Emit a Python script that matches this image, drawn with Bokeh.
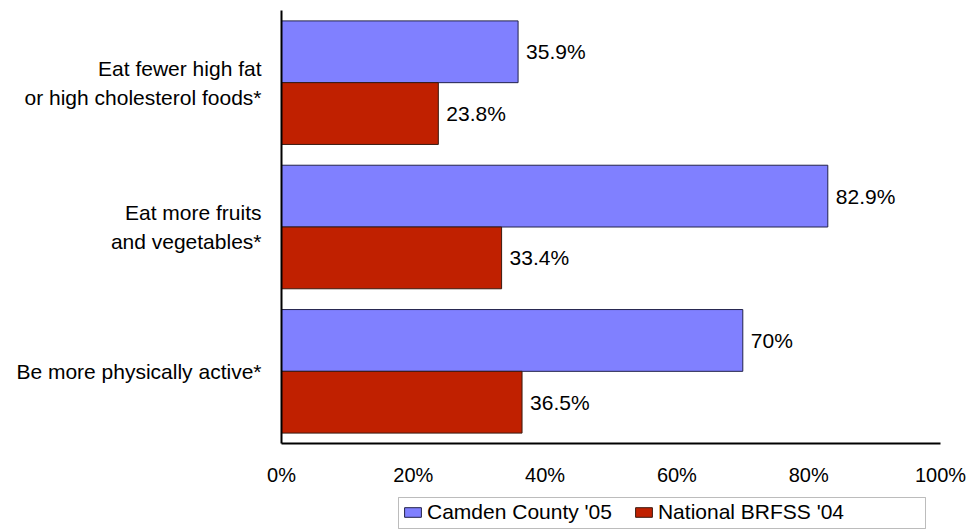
from bokeh.plotting import figure
from bokeh.layouts import column
from bokeh.models import (FactorRange, Range1d, ColumnDataSource, Legend, LegendItem,
                          FixedTicker, BoxAnnotation)
from bokeh.transform import dodge
from bokeh.core.properties import value
from bokeh.embed import file_html
from bokeh.resources import INLINE

categories = ["Be more physically active*",
              "Eat more fruits\nand vegetables*",
              "Eat fewer high fat\nor high cholesterol foods*"]
camden_05 = [70.0, 82.9, 35.9]
brfss_04 = [36.5, 33.4, 23.8]
series_names = ["Camden County '05", "National BRFSS '04"]
x_ticks = [0, 20, 40, 60, 80, 100]

FONT = "Liberation Sans"
FS = "21px"
BLUE = "#8080FF"
RED = "#C02000"
BLUE_EDGE = "#22224a"
RED_EDGE = "#3a1a10"

src = ColumnDataSource(dict(
    cat=categories,
    camden=camden_05,
    brfss=brfss_04,
    camden_lbl=[f"{v:g}%" for v in camden_05],
    brfss_lbl=[f"{v:g}%" for v in brfss_04],
))

p = figure(width=967, height=488, output_backend="svg", toolbar_location=None,
           y_range=FactorRange(*categories, range_padding=0),
           x_range=Range1d(0, 100),
           min_border_left=281, min_border_right=27, min_border_top=10, min_border_bottom=40)

bh = 0.428
r1 = p.hbar(y=dodge("cat", bh / 2, range=p.y_range), left=0, right="camden", height=bh,
            source=src, fill_color=BLUE, line_color=BLUE_EDGE, line_width=1)
r2 = p.hbar(y=dodge("cat", -bh / 2, range=p.y_range), left=0, right="brfss", height=bh,
            source=src, fill_color=RED, line_color=RED_EDGE, line_width=1)

p.text(x="camden", y=dodge("cat", bh / 2, range=p.y_range), text="camden_lbl", source=src,
       x_offset=8, text_baseline="middle", text_align="left",
       text_font=value(FONT), text_font_size=FS, text_color="#000000")
p.text(x="brfss", y=dodge("cat", -bh / 2, range=p.y_range), text="brfss_lbl", source=src,
       x_offset=8, text_baseline="middle", text_align="left",
       text_font=value(FONT), text_font_size=FS, text_color="#000000")

p.xgrid.grid_line_color = None
p.ygrid.grid_line_color = None
p.outline_line_color = None
p.background_fill_color = "white"
p.border_fill_color = "white"

p.xaxis.ticker = FixedTicker(ticks=x_ticks)
p.xaxis.major_label_overrides = {t: f"{t}%" for t in x_ticks}
for ax in (p.xaxis[0], p.yaxis[0]):
    ax.axis_line_color = "black"
    ax.axis_line_width = 2
    ax.major_tick_line_color = None
    ax.minor_tick_line_color = None
    ax.major_label_text_font = FONT
    ax.major_label_text_color = "#000000"
p.xaxis.major_label_text_font_size = "20px"
p.yaxis.major_label_text_font_size = FS
p.yaxis.major_label_text_line_height = 1.25
p.xaxis.major_label_standoff = 14
p.yaxis.major_label_standoff = 14

# legend strip below the chart (its frame is aligned with the chart's frame: x 281..940)
p2 = figure(width=967, height=41, output_backend="svg", toolbar_location=None,
            x_range=Range1d(281, 940), y_range=Range1d(0, 41),
            x_axis_type=None, y_axis_type=None,
            min_border_left=0, min_border_right=0, min_border_top=0, min_border_bottom=0)
p2.outline_line_color = None
p2.background_fill_color = "white"
p2.border_fill_color = "white"
# legend proxies, placed outside the visible range
k1 = p2.hbar(y=[-100], left=[-100], right=[-99], height=1,
             fill_color=BLUE, line_color=BLUE_EDGE, line_width=1)
k2 = p2.hbar(y=[-100], left=[-100], right=[-99], height=1,
             fill_color=RED, line_color=RED_EDGE, line_width=1)

p2.add_layout(BoxAnnotation(left=398, right=925, bottom=1, top=32,
                            fill_color=None, fill_alpha=0,
                            line_color="#222222", line_width=1))

legend = Legend(items=[LegendItem(label=series_names[0], renderers=[k1]),
                       LegendItem(label=series_names[1], renderers=[k2])],
                orientation="horizontal", location=(121, 5),
                glyph_width=21, glyph_height=12, label_standoff=4, spacing=21,
                padding=2, margin=0,
                label_text_font=FONT, label_text_font_size=FS,
                label_text_color="#000000",
                border_line_color=None, background_fill_alpha=0,
                label_height=22)
p2.add_layout(legend, "center")

layout = column(p, p2, spacing=0)
open("out.html", "w").write(file_html(layout, INLINE))
